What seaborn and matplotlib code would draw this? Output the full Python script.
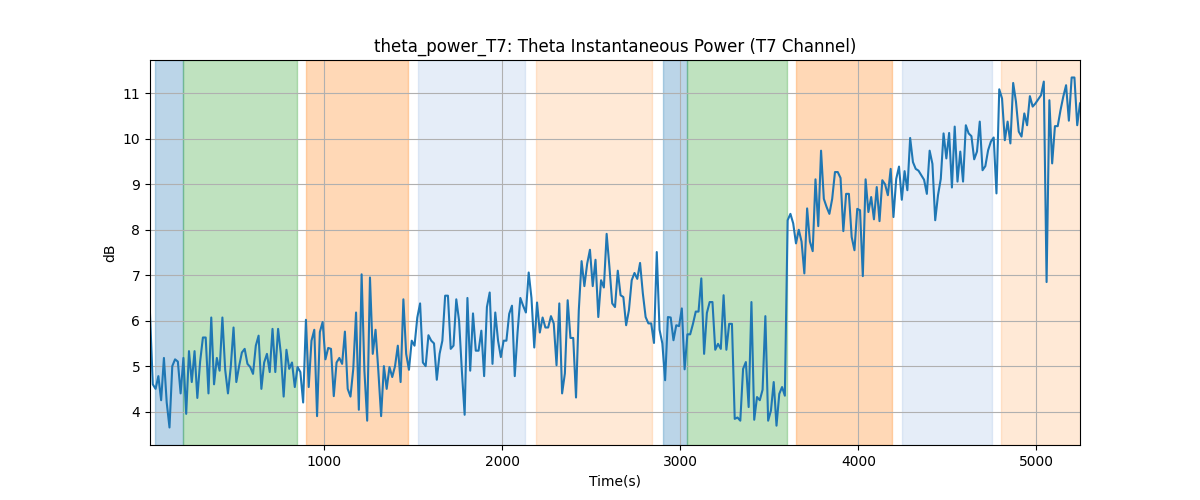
import numpy as np
import pandas as pd
import matplotlib
matplotlib.use("Agg")
import matplotlib.pyplot as plt
import seaborn as sns

# time range of the recording (s)
t_start = 22
t_end = 5245

# theta power in dB, read left to right
power_db = [
    6.15, 4.6, 4.5, 4.78, 4.25, 5.18, 4.2, 3.65, 5.0, 5.15, 5.1, 4.4, 5.18, 3.95, 5.33, 4.65,
    5.33, 4.3, 5.1, 5.63, 5.63, 4.4, 6.07, 4.6, 5.18, 4.9, 6.07, 4.92, 4.4, 4.98, 5.85, 4.65,
    5.0, 5.3, 5.38, 5.05, 4.98, 4.83, 5.45, 5.67, 4.5, 5.08, 5.27, 4.87, 5.82, 4.87, 5.82, 5.27, 4.33,
    5.36, 4.94, 5.08, 4.54, 4.98, 4.87, 4.2, 6.02, 4.54, 5.56, 5.8, 3.9, 5.75, 5.97, 5.15, 5.4, 5.38,
    4.34, 5.08, 5.18, 5.05, 5.76, 4.5, 4.33, 4.94, 6.18, 4.04, 7.02, 4.9, 3.8, 6.95, 5.27, 5.8, 4.9,
    3.9, 5.0, 4.5, 4.98, 4.76, 5.0, 5.45, 4.65, 6.47, 5.27, 4.92, 5.56, 5.45,
    6.07, 6.38, 5.08, 5.0, 5.68, 5.56, 5.5, 4.7, 5.27, 5.56, 6.55, 6.55, 5.38, 5.45, 6.47, 6.0, 4.9,
    3.93, 6.5, 4.9, 6.16, 5.34, 5.34, 5.78, 4.78, 6.3, 6.62, 5.05, 6.18, 5.56, 5.2, 5.56, 5.56, 6.15,
    6.33, 4.78, 5.74, 6.5, 6.33, 6.18, 7.06, 6.5, 5.41, 6.4, 5.74, 6.07, 5.85, 5.85,
    6.1, 5.94, 5.02, 6.38, 4.4, 4.84, 6.45, 5.62, 5.62, 4.31, 6.23, 7.31, 6.76, 7.25, 7.56, 6.76,
    7.34, 6.08, 6.89, 6.73, 7.91, 7.18, 6.38, 6.3, 7.1, 6.56, 6.52, 5.9, 6.23, 6.89, 7.05, 6.92, 7.27,
    6.6, 6.08, 5.94, 5.94, 5.51, 7.51, 5.8, 5.5, 4.69, 6.08, 6.07, 5.57, 5.9, 5.88, 6.27, 4.93,
    5.7, 5.7, 5.93, 6.2, 6.2, 6.93, 5.27, 6.17, 6.41, 6.41, 5.36, 5.49, 5.38, 6.56, 5.36, 5.93, 5.93,
    3.84, 3.87, 3.8, 4.94, 5.09, 4.1, 6.41, 3.82, 4.32, 4.25, 4.48, 6.1, 3.8, 4.02, 4.65, 3.69, 4.39,
    4.54, 4.35, 8.21, 8.35, 8.14, 7.7, 8.0, 7.74, 7.04, 8.47, 7.74,
    7.53, 9.11, 8.08, 9.74, 8.68, 8.5, 8.35, 8.68, 9.27, 9.27, 9.14, 7.97, 8.79, 8.79, 7.84, 7.55,
    8.46, 8.43, 6.98, 9.11, 8.39, 8.72, 8.23, 8.94, 8.19, 9.09, 9.0, 8.76, 9.34, 8.28, 9.12, 9.39,
    8.66, 9.29, 8.87, 10.02, 9.49, 9.34, 9.3, 9.2, 9.1, 8.79, 9.74, 9.45, 8.21, 8.76, 9.12,
    10.12, 9.57, 10.13, 8.93, 10.27, 9.06, 9.72, 9.06, 10.3, 10.12, 10.06, 9.55, 9.72, 10.38, 9.31,
    9.4, 9.75, 9.94, 10.03, 8.8, 11.09, 10.89, 9.97, 10.38, 9.9, 11.23, 10.82, 10.16, 10.05, 10.56,
    10.3, 10.94, 10.71, 10.78, 10.87, 10.96, 11.26, 6.85, 10.85, 9.46, 10.28, 10.28, 10.63, 10.93,
    11.18, 10.4, 11.35, 11.35, 10.3, 10.78,
]

# shaded task phases: start, end, colour, alpha
phase_start = [51, 208, 899, 1528, 2191, 2904, 3039, 3652, 4247, 4803]
phase_end = [208, 848, 1472, 2129, 2843, 3039, 3601, 4191, 4753, 5300]
phase_color = ['tab:blue', 'tab:green', 'tab:orange', '#5288d0', 'tab:orange',
               'tab:blue', 'tab:green', 'tab:orange', '#5288d0', 'tab:orange']
phase_alpha = [0.3, 0.3, 0.3, 0.15, 0.17, 0.3, 0.3, 0.3, 0.15, 0.17]

time_s = np.linspace(t_start, t_end, len(power_db))
df = pd.DataFrame({'Time(s)': time_s, 'dB': power_db})

fig, ax = plt.subplots(figsize=(12, 5), dpi=100)

for s, e, c, a in zip(phase_start, phase_end, phase_color, phase_alpha):
    ax.axvspan(s, e, color=c, alpha=a)

sns.lineplot(data=df, x='Time(s)', y='dB', ax=ax, color='tab:blue', linewidth=1.5)

ax.set_xlim(t_start, t_end)
ax.grid(True)
ax.set_title('theta_power_T7: Theta Instantaneous Power (T7 Channel)')
ax.set_xlabel('Time(s)')
ax.set_ylabel('dB')

fig.savefig('out.png')
